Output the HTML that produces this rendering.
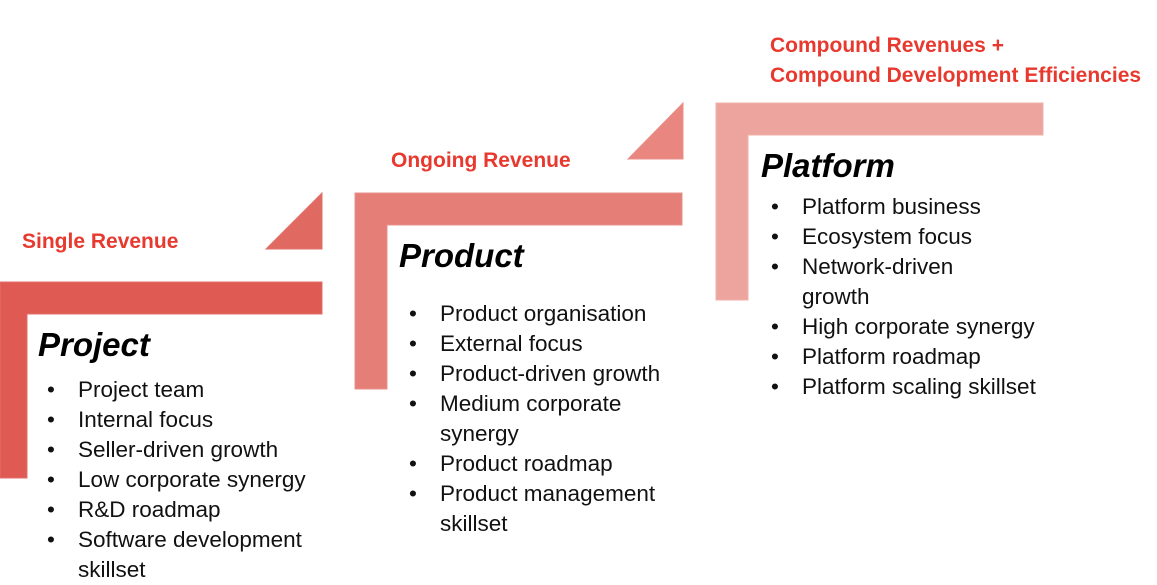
<!DOCTYPE html>
<html><head><style>
body{margin:0;width:1157px;height:584px;background:#fff;position:relative;overflow:hidden;font-family:"Liberation Sans",sans-serif}
.a{position:absolute}
.lab{position:absolute;color:#E8392F;font-weight:bold;font-size:21px;line-height:30px;white-space:nowrap}
.t{position:absolute;font-weight:bold;font-style:italic;font-size:33px;color:#000}
ul{position:absolute;margin:0;padding:0;list-style:none;font-size:22.5px;line-height:30px;color:#111}
li{position:relative;padding-left:31px}
li:before{content:"•";position:absolute;left:0}
</style></head><body>
<svg class="a" style="left:0;top:0" width="1157" height="584">
<polygon points="0,282 322,282 322,314 27,314 27,478 0,478" fill="#DF5A52" stroke="#E0706A"/>
<polygon points="322,193 322,249 266,249" fill="#E06A62" stroke="#E0706A"/>
<polygon points="355,193 682,193 682,225 387,225 387,389 355,389" fill="#E67E78" stroke="#E8908A"/>
<polygon points="683,103 683,159 628,159" fill="#E8867F" stroke="#E8908A"/>
<polygon points="716,103 1043,103 1043,135 748,135 748,300 716,300" fill="#EDA49E" stroke="#EFB0AA"/>
</svg>
<div class="lab" style="left:22px;top:227px">Single Revenue</div>
<div class="lab" style="left:391px;top:146px">Ongoing Revenue</div>
<div class="lab" style="left:770px;top:31px">Compound Revenues +<br>Compound Development Efficiencies</div>
<div class="t" style="left:38px;top:326px">Project</div>
<div class="t" style="left:399px;top:237px">Product</div>
<div class="t" style="left:761px;top:147px">Platform</div>
<ul style="left:47px;top:375px;width:290px">
<li>Project team</li><li>Internal focus</li><li>Seller-driven growth</li><li>Low corporate synergy</li><li>R&amp;D roadmap</li><li>Software development skillset</li></ul>
<ul style="left:409px;top:299px;width:281px">
<li>Product organisation</li><li>External focus</li><li>Product-driven growth</li><li>Medium corporate synergy</li><li>Product roadmap</li><li>Product management skillset</li></ul>
<ul style="left:771px;top:192px;width:300px">
<li>Platform business</li><li>Ecosystem focus</li><li style="width:170px">Network-driven growth</li><li>High corporate synergy</li><li>Platform roadmap</li><li>Platform scaling skillset</li></ul>
</body></html>
